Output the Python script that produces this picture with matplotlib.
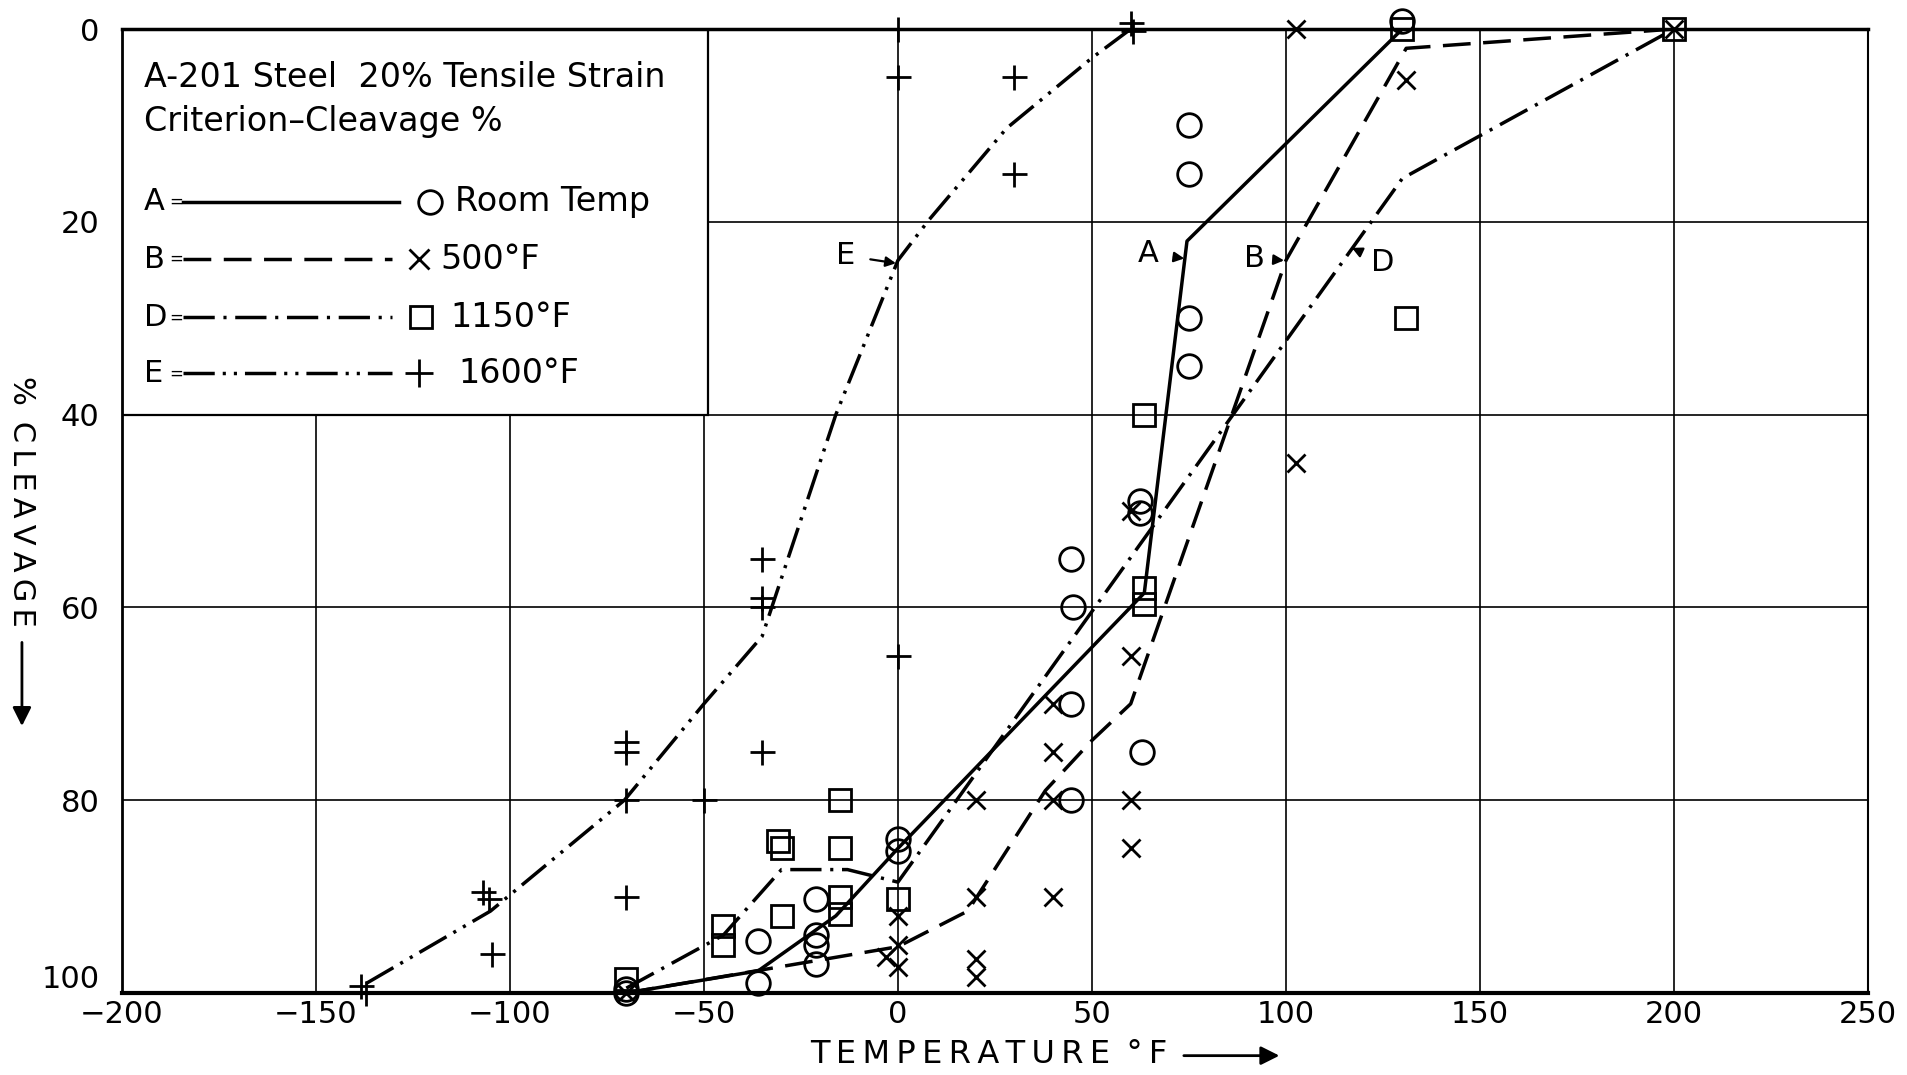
import matplotlib
matplotlib.use('Agg')
import matplotlib.pyplot as plt
from matplotlib.patches import Rectangle
from matplotlib.transforms import ScaledTranslation

# curves (temperature F, % cleavage)
a_temp = [-70, -36, -16, 0, 63.5, 74.5, 130, 200]
a_cleav = [100, 97.7, 92, 85, 58.5, 22, 0, 0]

b_temp = [-70, 0, 18, 38, 50, 60, 100, 131, 200]
b_cleav = [100, 95.2, 91.5, 79, 73.8, 70, 24, 2, 0]

d_temp = [-70, -45, -30, -13, 0, 130, 200]
d_cleav = [99.5, 94, 87.2, 87.2, 88.5, 15.5, 0]

e_temp = [-137, -105, -70.5, -50, -35, -16, 0, 8, 28, 50, 60]
e_cleav = [99, 91.5, 80, 70, 63, 40, 24, 19.8, 10.3, 3, 0]

# test points
room_t = [130, 75, 75, 75, 75, 62.5, 62.5, 44.5, 45, 44.5, 63, 44.5, 0, 0,
          -21, -21, -21, -21, -36, -36, -70, -70]
room_c = [-0.8, 10, 15, 30, 35, 49, 50.2, 55, 60, 70, 75, 80, 84, 85.3,
          90.2, 94, 95, 97, 94.6, 99, 100, 99.6]

f500_t = [102.5, 131, 200, 102.5, 60, 60, 40, 40, 40, 60, 60, 20, 40, 20,
          20, 20, 0, 0, -3, 0, -70]
f500_c = [0, 5.3, 0, 45, 50, 65, 70, 75, 80, 80, 85, 80, 90, 90,
          96.5, 98.3, 92, 95, 96.3, 97.3, 100]

f1150_t = [200, 130, 131, 63.5, 63.5, 63.5, -15, -31, -30, -15, -15, -15,
           0, -30, -45, -45, -70]
f1150_c = [0, 0, 30, 40, 58, 59.6, 80, 84.2, 85, 85, 90, 91.8,
           90.3, 92, 93, 95, 98.5]

f1600_t = [60, 60.5, 0, 0, 30, 30, 0, -35, -35, -35, -70, -70, -35, -70,
           -50, -107, -105.5, -70, -104.5, -138.5, -137]
f1600_c = [-0.6, 0.2, 0, 5, 5, 15, 65, 55, 59, 60, 74, 75, 75, 80,
           80, 89.5, 90.2, 90, 96, 99.3, 100]

x_ticks = [-200, -150, -100, -50, 0, 50, 100, 150, 200, 250]
y_ticks = [0, 20, 40, 60, 80, 100]

# curve labels: letter, text position, arrow tip
curve_labels = [('E', (-13.5, 23.5), (-0.5, 24.3)),
                ('A', (64.5, 23.3), (73.8, 23.8)),
                ('B', (92, 23.8), (99.5, 24.0))]

ls_b = (0, (8, 3.6))
ls_d = (0, (9, 2.5, 0.9, 2.5))
ls_e = (0, (9, 2.3, 0.9, 2.3, 0.9, 2.3))

plt.rcParams['font.family'] = ['DejaVu Sans']
fig = plt.figure(figsize=(19.08, 10.75), dpi=100)
ax = fig.add_axes([0.0639, 0.0763, 0.9151, 0.8967])

lw = 2.5
ax.plot(a_temp, a_cleav, color='black', lw=lw, zorder=3)
ax.plot(b_temp, b_cleav, color='black', lw=lw, ls=ls_b, zorder=3)
ax.plot(d_temp, d_cleav, color='black', lw=lw, ls=ls_d, zorder=3)
ax.plot(e_temp, e_cleav, color='black', lw=lw, ls=ls_e, zorder=3)

mk = dict(ls='none', color='black', mfc='none', mew=2, zorder=4, clip_on=False)
ax.plot(room_t, room_c, marker='o', ms=17, **mk)
ax.plot(f500_t, f500_c, marker='x', ms=13, **mk)
ax.plot(f1150_t, f1150_c, marker='s', ms=16, **mk)
ax.plot(f1600_t, f1600_c, marker='+', ms=18, **mk)

for letter, txy, tip in curve_labels:
    ax.annotate(letter, xy=tip, xytext=txy, fontsize=22, ha='center', va='center', zorder=5,
                arrowprops=dict(arrowstyle='-|>', color='black', lw=1.6, mutation_scale=15,
                                shrinkA=9, shrinkB=0))
ax.annotate('D', xy=(117, 22.7), xytext=(125, 24.2), fontsize=22, ha='center', va='center',
            zorder=5, arrowprops=dict(arrowstyle='-|>', color='black', lw=1.6,
                                      mutation_scale=15, shrinkA=11, shrinkB=0))

ax.set_xlim(-200, 250)
ax.set_ylim(100, 0)
ax.set_xticks(x_ticks)
ax.set_xticklabels([str(v).replace('-', '\u2212') for v in x_ticks])
ax.set_yticks(y_ticks)
ax.set_yticklabels([str(v) for v in y_ticks])
ax.tick_params(axis='both', length=0, labelsize=22)
ax.tick_params(axis='x', pad=5)
ax.tick_params(axis='y', pad=16)
# 100 sits a little above its grid line in the original
lab100 = ax.get_yticklabels()[-1]
lab100.set_transform(lab100.get_transform() + ScaledTranslation(0, 12 / 72, fig.dpi_scale_trans))

ax.set_axisbelow(True)
ax.grid(True, color='black', lw=1.2)
ax.spines['bottom'].set_linewidth(3)
ax.spines['top'].set_linewidth(2.5)
ax.spines['left'].set_linewidth(2)
ax.spines['right'].set_linewidth(1.5)

# key box in the upper left
ax.add_patch(Rectangle((0, 0.6), 0.3355, 0.4, transform=ax.transAxes, fc='white',
                       ec='black', lw=1.6, zorder=1.5))
ax.text(0.0125, 0.9495, 'A-201 Steel  20% Tensile Strain', transform=ax.transAxes,
        fontsize=24, va='center', zorder=5)
ax.text(0.0125, 0.904, 'Criterion\u2013Cleavage %', transform=ax.transAxes,
        fontsize=24, va='center', zorder=5)

key_rows = [('A', '-', 0.1589, 'o', 17, 0.1763, 'Room Temp', 0.1905, 0.8207),
            ('B', ls_b, 0.1547, 'x', 14, 0.170, '500\u00b0F', 0.1826, 0.7614),
            ('D', ls_d, 0.1547, 's', 16, 0.1714, '1150\u00b0F', 0.188, 0.7008),
            ('E', ls_e, 0.1547, '+', 20, 0.170, '1600\u00b0F', 0.1925, 0.6427)]
for letter, ls, x_end, marker, ms, x_mk, label, x_lab, y in key_rows:
    ax.text(0.0125, y, letter, transform=ax.transAxes, fontsize=22, va='center', zorder=5)
    ax.text(0.0272, y, '=', transform=ax.transAxes, fontsize=12, va='center', zorder=5)
    ax.plot([0.035, x_end], [y, y], transform=ax.transAxes, color='black', lw=lw,
            ls=ls, zorder=5)
    ax.plot([x_mk], [y], transform=ax.transAxes, marker=marker, ms=ms, color='black',
            mfc='none', mew=2, ls='none', zorder=5)
    ax.text(x_lab, y, label, transform=ax.transAxes, fontsize=24, va='center', zorder=5)

# axis titles with arrows
fig.text(0.0115, 0.534, '%\u2009 C\u2009L\u2009E\u2009A\u2009V\u2009A\u2009G\u2009E',
         rotation=270, fontsize=22, ha='center', va='center')
ax.annotate('', xy=(0.0115, 0.322), xytext=(0.0115, 0.405), xycoords='figure fraction',
            textcoords='figure fraction',
            arrowprops=dict(arrowstyle='-|>', color='black', lw=2, mutation_scale=28))
fig.text(0.518, 0.0195, 'T\u2009E\u2009M\u2009P\u2009E\u2009R\u2009A\u2009T\u2009U\u2009R\u2009E \u2009\u00b0\u2009F',
         fontsize=23, ha='center', va='center')
ax.annotate('', xy=(0.672, 0.018), xytext=(0.619, 0.018), xycoords='figure fraction',
            textcoords='figure fraction',
            arrowprops=dict(arrowstyle='-|>', color='black', lw=2, mutation_scale=28))

fig.savefig('out.png', dpi=100)
